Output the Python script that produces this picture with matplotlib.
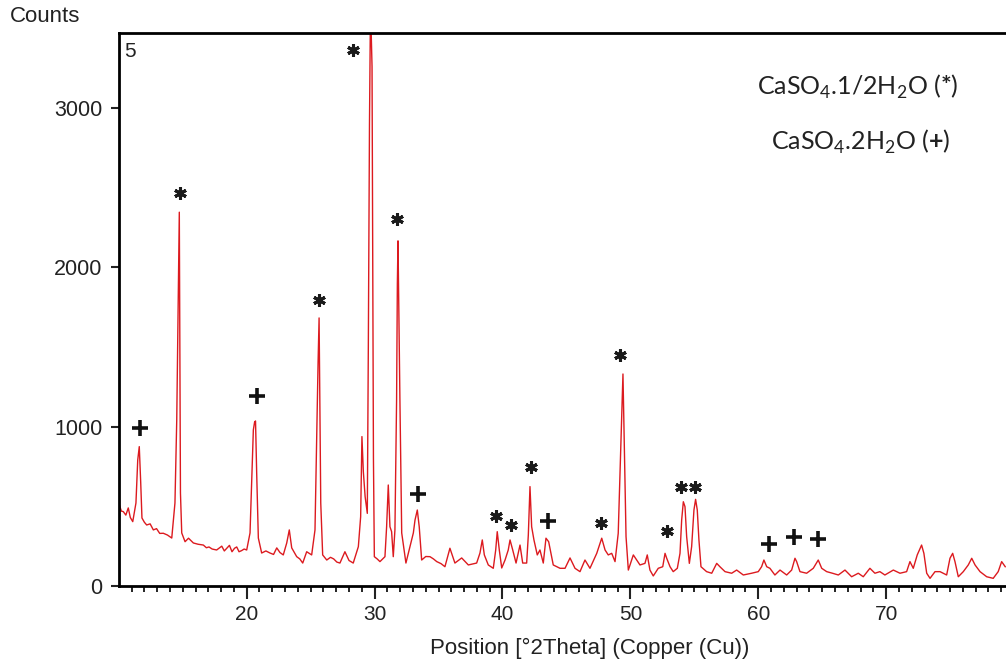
import matplotlib
matplotlib.use("Agg")
import matplotlib.pyplot as plt

plt.rcParams['font.family'] = ['Liberation Sans', 'DejaVu Sans']
plt.rcParams['mathtext.fontset'] = 'custom'
plt.rcParams['mathtext.rm'] = 'Lato'
plt.rcParams['mathtext.bf'] = 'Lato:bold'

# XRD pattern: 2theta (deg) and counts
two_theta = [
    10.04, 10.20, 10.35, 10.55, 10.74, 10.90, 11.09, 11.34, 11.48, 11.60,
    11.71, 11.81, 12.00, 12.18, 12.45, 12.70, 12.95, 13.20, 13.48, 13.80,
    14.14, 14.39, 14.53, 14.65, 14.73, 14.82, 14.92, 15.18, 15.45, 15.83,
    16.20, 16.61, 16.85, 17.05, 17.30, 17.65, 18.05, 18.25, 18.44, 18.65,
    18.85, 19.05, 19.22, 19.40, 19.60, 19.80, 20.00, 20.26, 20.52, 20.62,
    20.69, 20.78, 20.91, 21.17, 21.50, 21.82, 22.10, 22.35, 22.60, 22.86,
    23.13, 23.33, 23.52, 23.91, 24.15, 24.38, 24.69, 25.08, 25.34, 25.48,
    25.58, 25.66, 25.79, 25.94, 26.26, 26.55, 26.80, 27.05, 27.29, 27.68,
    28.00, 28.33, 28.73, 28.91, 29.01, 29.12, 29.26, 29.43, 29.51, 29.60,
    29.68, 29.80, 29.91, 29.98, 30.20, 30.42, 30.81, 30.94, 31.07, 31.20,
    31.33, 31.46, 31.59, 31.72, 31.78, 31.83, 31.98, 32.12, 32.45, 32.77,
    33.03, 33.16, 33.34, 33.49, 33.68, 34.00, 34.33, 34.60, 34.86, 35.20,
    35.50, 35.89, 36.28, 36.81, 37.33, 37.98, 38.24, 38.42, 38.58, 38.89,
    39.28, 39.47, 39.59, 39.75, 39.94, 40.20, 40.45, 40.59, 40.80, 41.06,
    41.37, 41.58, 41.89, 42.02, 42.15, 42.28, 42.46, 42.72, 42.93, 43.19,
    43.40, 43.61, 43.97, 44.50, 44.89, 45.28, 45.67, 46.06, 46.45, 46.84,
    47.37, 47.76, 48.02, 48.27, 48.54, 48.80, 49.05, 49.19, 49.32, 49.42,
    49.52, 49.66, 49.84, 50.23, 50.75, 51.14, 51.32, 51.53, 51.79, 52.18,
    52.53, 52.71, 52.84, 53.10, 53.35, 53.67, 53.88, 54.01, 54.14, 54.27,
    54.40, 54.61, 54.79, 54.97, 55.10, 55.23, 55.36, 55.52, 55.96, 56.36,
    56.75, 57.00, 57.40, 57.92, 58.31, 58.83, 59.48, 60.00, 60.26, 60.44,
    60.66, 60.91, 61.30, 61.70, 62.22, 62.61, 62.87, 63.00, 63.26, 63.78,
    64.30, 64.69, 64.96, 65.35, 65.80, 66.26, 66.78, 67.30, 67.82, 68.21,
    68.73, 69.12, 69.51, 69.90, 70.56, 71.08, 71.60, 71.86, 72.12, 72.43,
    72.77, 72.95, 73.17, 73.43, 73.82, 74.21, 74.73, 74.99, 75.20, 75.38,
    75.64, 76.03, 76.42, 76.69, 76.95, 77.34, 77.86, 78.37, 78.76, 79.03,
    79.31,
]
counts = [
    509, 470, 467, 445, 490, 430, 404, 521, 791, 875,
    655, 427, 400, 383, 390, 352, 360, 330, 331, 320,
    301, 521, 1042, 1850, 2347, 584, 333, 278, 300, 270,
    262, 257, 240, 245, 232, 226, 250, 220, 237, 255,
    215, 237, 245, 215, 222, 232, 226, 333, 980, 1030,
    1036, 710, 301, 207, 220, 207, 198, 239, 210, 195,
    270, 352, 239, 184, 170, 144, 215, 195, 352, 961,
    1400, 1683, 521, 195, 163, 180, 170, 150, 144, 215,
    160, 144, 247, 435, 938, 718, 561, 456, 1500, 2900,
    3650, 3262, 800, 184, 170, 153, 184, 372, 634, 372,
    341, 184, 352, 1168, 1900, 2167, 1168, 333, 144, 247,
    333, 414, 477, 372, 163, 185, 184, 170, 153, 140,
    121, 237, 144, 176, 132, 144, 207, 289, 195, 132,
    111, 226, 341, 226, 113, 163, 226, 289, 226, 144,
    257, 144, 144, 320, 624, 372, 289, 195, 226, 144,
    300, 278, 132, 111, 111, 176, 111, 90, 163, 111,
    205, 300, 226, 195, 205, 153, 331, 708, 1050, 1331,
    917, 310, 100, 195, 132, 142, 195, 100, 63, 111,
    121, 205, 174, 121, 90, 111, 205, 414, 529, 498,
    310, 142, 247, 477, 544, 477, 289, 121, 90, 80,
    142, 121, 90, 80, 100, 69, 80, 90, 121, 163,
    121, 111, 69, 100, 69, 100, 174, 153, 90, 80,
    111, 163, 111, 90, 80, 69, 100, 58, 80, 58,
    111, 80, 90, 69, 100, 80, 90, 153, 111, 195,
    257, 205, 80, 48, 90, 90, 69, 174, 205, 153,
    58, 90, 132, 174, 132, 90, 58, 48, 90, 153,
    121,
]

# phase markers: position, height of the mark
half_x = [14.78, 25.65, 28.31, 31.75, 39.49, 40.66, 42.23, 47.70, 49.19, 52.87, 53.96, 55.05]
half_y = [2466, 1795, 3364, 2303, 439, 383, 747, 395, 1450, 345, 621, 621]
dihyd_x = [11.65, 20.80, 33.39, 43.56, 60.83, 62.79, 64.66]
dihyd_y = [992, 1192, 577, 408, 264, 308, 295]

fig = plt.figure(figsize=(10.06, 6.64), dpi=100)
ax = fig.add_axes([0.1181, 0.1175, 0.8819, 0.8323])

ax.plot(two_theta, counts, color='#dc1a1f', lw=1.0)
ax.plot(half_x, half_y, ls='none', marker=(6, 2, 0), ms=9, mew=2.2, color='#1a1a1a')
ax.plot(dihyd_x, dihyd_y, ls='none', marker='+', ms=11, mew=2.6, color='#111111')

ax.set_xlim(10, 79.37)
ax.set_ylim(0, 3470)
ax.set_xticks([20, 30, 40, 50, 60, 70])
ax.set_xticks(range(11, 80), minor=True)
ax.set_yticks([0, 1000, 2000, 3000])
ax.tick_params(axis='x', which='major', direction='out', length=9, width=1.5, labelsize=15, colors='#222222', pad=5)
ax.tick_params(axis='x', which='minor', direction='out', length=4.5, width=1.2)
ax.tick_params(axis='y', direction='out', length=6, width=1.5, labelsize=15.5, colors='#222222', pad=6)

for side in ['left', 'bottom', 'top']:
    ax.spines[side].set_linewidth(2)
ax.spines['right'].set_visible(False)

ax.set_xlabel('Position [°2Theta] (Copper (Cu))', fontsize=16, color='#222222')
ax.xaxis.set_label_coords(0.531, -0.093)
fig.text(0.010, 0.975, 'Counts', fontsize=16, color='#222222', va='center', ha='left')
ax.text(0.006, 0.985, '5', transform=ax.transAxes, fontsize=15, color='#222222', va='top', ha='left')

ax.text(0.719, 0.903, r'CaSO$_4$.1/2H$_2$O ($\mathbf{*}$)', transform=ax.transAxes,
        fontsize=18, family='Lato', color='#222222', va='center', ha='left')
ax.text(0.735, 0.803, r'CaSO$_4$.2H$_2$O ($\mathbf{+}$)', transform=ax.transAxes,
        fontsize=18, family='Lato', color='#222222', va='center', ha='left')

fig.savefig('out.png', dpi=100)
